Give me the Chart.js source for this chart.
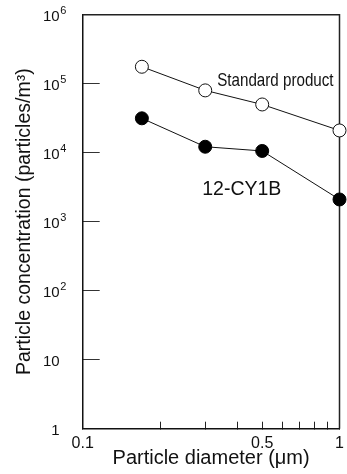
<!DOCTYPE html>
<html>
<head>
<meta charset="utf-8">
<script src="https://cdn.jsdelivr.net/npm/chart.js@4.4.0/dist/chart.umd.min.js"></script>
<style>
    html, body { margin: 0; padding: 0; background: #fff; }
    #wrap { width: 347px; height: 474px; }
</style>
</head>
<body>
<div id="wrap"><canvas id="chart" width="347" height="474"></canvas></div>
<script>
// particle diameter (um)
const diameters = [0.17, 0.3, 0.5, 1.0];
// particles / m3
const standardProduct = [176000, 80000, 50000, 21000];
const cy1b = [31500, 12200, 10600, 2100];

const xTickValues = [0.1, 0.2, 0.3, 0.4, 0.5, 0.6, 0.7, 0.8, 0.9, 1];
const xTickLabels = ['0.1', '', '', '', '0.5', '', '', '', '', '1'];
const yTickValues = [1, 10, 100, 1000, 10000, 100000, 1000000];
const yTickBases = ['1', '10', '10', '10', '10', '10', '10'];
const yTickExps = ['', '', '2', '3', '4', '5', '6'];

const seriesNames = ['Standard product', '12-CY1B'];

const FONT = '"Liberation Sans", Arial, Helvetica, sans-serif';

function toPoints(values) {
    return diameters.map((d, i) => ({x: d, y: values[i]}));
}

// frame on top/right, superscript tick labels and series names
const framePlugin = {
    id: 'frame',
    beforeDatasetsDraw(chart) {
        const {ctx, chartArea: a} = chart;
        ctx.save();
        ctx.strokeStyle = '#222';
        ctx.lineWidth = 1.5;
        ctx.beginPath();
        ctx.moveTo(a.left, a.top);
        ctx.lineTo(a.right, a.top);
        ctx.lineTo(a.right, a.bottom);
        ctx.stroke();
        ctx.restore();
    },
    afterDraw(chart) {
        const {ctx} = chart;
        const xs = chart.scales.x;
        const ys = chart.scales.y;
        ctx.save();
        ctx.fillStyle = '#111';
        ctx.textBaseline = 'middle';
        const baseRight = ys.right - 23;
        yTickValues.forEach((v, i) => {
            const py = ys.getPixelForValue(v);
            ctx.font = '15px ' + FONT;
            ctx.textAlign = 'right';
            ctx.fillText(yTickBases[i], baseRight, py + 2);
            if (yTickExps[i]) {
                ctx.font = '11px ' + FONT;
                ctx.textAlign = 'left';
                ctx.fillText(yTickExps[i], baseRight + 0.5, py - 4);
            }
        });

        // series names
        const notes = [
            {text: seriesNames[0], x: 0.334, y: 110000, size: 18.5, squeeze: 0.82},
            {text: seriesNames[1], x: 0.292, y: 2880, size: 19.5, squeeze: 1}
        ];
        notes.forEach(n => {
            const px = xs.getPixelForValue(n.x);
            const py = ys.getPixelForValue(n.y);
            ctx.save();
            ctx.translate(px, py);
            ctx.scale(n.squeeze, 1);
            ctx.font = n.size + 'px ' + FONT;
            ctx.textAlign = 'left';
            ctx.fillText(n.text, 0, 0);
            ctx.restore();
        });
        ctx.restore();
    }
};

const chartData = {
    datasets: [
        {
            label: seriesNames[0],
            data: toPoints(standardProduct),
            borderColor: '#111',
            borderWidth: 1,
            pointRadius: 6.5,
            pointBorderWidth: 1,
            pointBorderColor: '#111',
            pointBackgroundColor: '#fff',
            clip: false
        },
        {
            label: seriesNames[1],
            data: toPoints(cy1b),
            borderColor: '#111',
            borderWidth: 1,
            pointRadius: 6.5,
            pointBorderWidth: 1,
            pointBorderColor: '#000',
            pointBackgroundColor: '#000',
            clip: false
        }
    ]
};

const config = {
    type: 'line',
    data: chartData,
    options: {
        responsive: false,
        animation: false,
        devicePixelRatio: 1,
        layout: {
            padding: {top: 14.7, right: 5.3, bottom: 0, left: 0}
        },
        plugins: {
            legend: {display: false},
            tooltip: {enabled: false}
        },
        scales: {
            x: {
                type: 'logarithmic',
                min: 0.1,
                max: 1,
                afterBuildTicks: scale => {
                    scale.ticks = xTickValues.map(v => ({value: v}));
                },
                afterFit: scale => {
                    scale.height = 45.3;
                    scale.paddingLeft = 0;
                    scale.paddingRight = 0;
                },
                grid: {
                    drawOnChartArea: false,
                    drawTicks: true,
                    tickLength: -7,
                    color: '#222',
                    lineWidth: 1
                },
                border: {display: true, color: '#111', width: 1.5},
                ticks: {
                    autoSkip: false,
                    maxRotation: 0,
                    padding: 12,
                    color: '#111',
                    font: {family: FONT, size: 16},
                    callback: (value, index) => xTickLabels[index]
                },
                title: {
                    display: true,
                    text: 'Particle diameter (\u03bcm)',
                    color: '#111',
                    font: {family: FONT, size: 20},
                    padding: {top: 0, bottom: 4}
                }
            },
            y: {
                type: 'logarithmic',
                min: 1,
                max: 1000000,
                afterBuildTicks: scale => {
                    scale.ticks = yTickValues.map(v => ({value: v}));
                },
                afterFit: scale => {
                    scale.width = 82.7;
                    scale.paddingTop = 0;
                    scale.paddingBottom = 0;
                },
                grid: {
                    drawOnChartArea: false,
                    drawTicks: true,
                    tickLength: -17,
                    color: '#333',
                    lineWidth: 1
                },
                border: {display: true, color: '#111', width: 1.5},
                ticks: {display: false},
                title: {
                    display: true,
                    text: 'Particle concentration (particles/m\u00b3)',
                    color: '#111',
                    font: {family: FONT, size: 19.5},
                    padding: {top: 13, bottom: 0}
                }
            }
        }
    },
    plugins: [framePlugin]
};

new Chart(document.getElementById('chart').getContext('2d'), config);
</script>
</body>
</html>
